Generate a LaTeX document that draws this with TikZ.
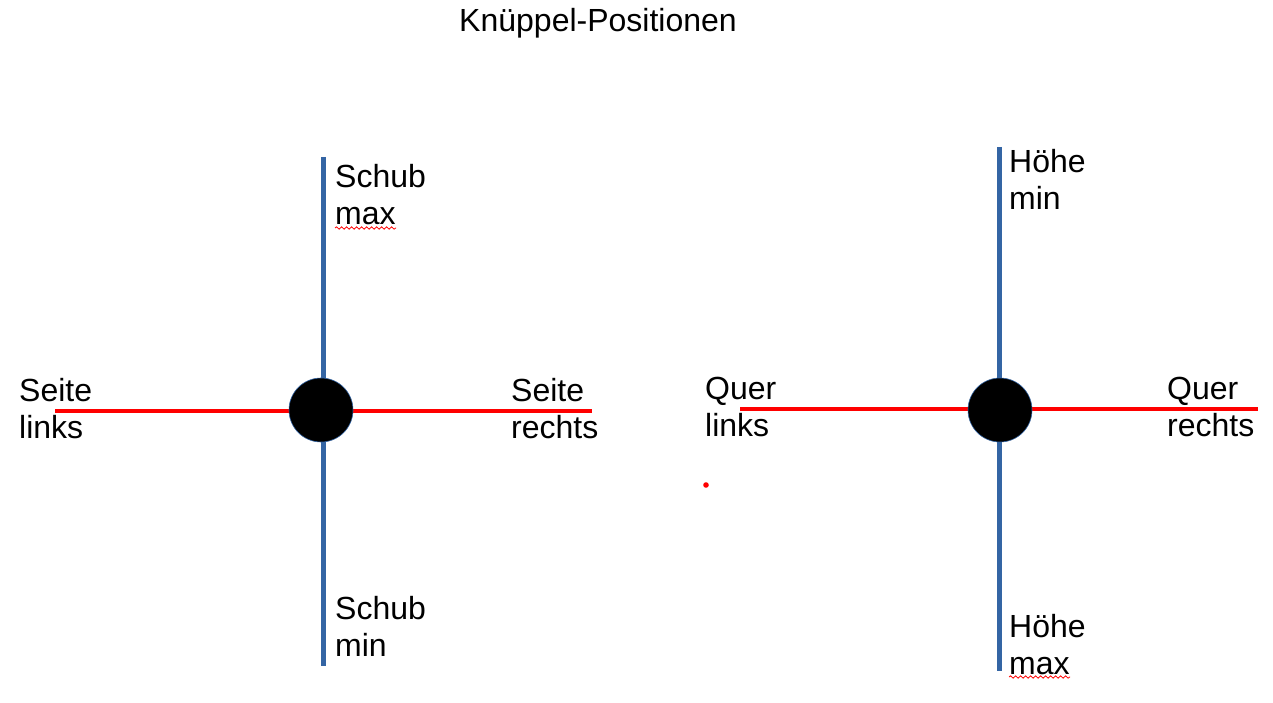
\documentclass[tikz,border=0pt]{standalone}
\usepackage{fontspec}
\setmainfont{Liberation Sans}
\usetikzlibrary{decorations.pathmorphing}
\definecolor{axisblue}{HTML}{3465A4}
\definecolor{axisred}{HTML}{FF0000}
\begin{document}
\begin{tikzpicture}[x=1pt,y=-1pt,
  lbl/.style={font=\fontsize{32}{37}\selectfont, inner sep=0pt, anchor=base west, align=left},
  vaxis/.style={draw=axisblue, line width=5pt},
  haxis/.style={draw=axisred, line width=4pt},
  knob/.style={circle, fill=black, draw=axisblue, line width=0.6pt, minimum size=64pt, inner sep=0pt},
  spell/.style={draw=axisred, line width=0.8pt, decorate, decoration={snake, amplitude=1.2pt, segment length=5pt}}]
\useasboundingbox (0,0) rectangle (1273,703);
\node[font=\fontsize{32}{37}\selectfont, inner sep=0pt, anchor=base] (title) at (598,32) {Knüppel-Positionen};
% left stick
\coordinate (LT) at (323,157);
\coordinate (LB) at (323,666);
\coordinate (LL) at (55,411);
\coordinate (LR) at (592,411);
\draw[haxis] (LL) -- (LR);
\draw[vaxis] (LT) -- (LB);
\node[knob] (lknob) at (321,410) {};
\node[lbl] (schubmax) at (335,225) {Schub\\max};
\node[lbl] (schubmin) at (335,656) {Schub\\min};
\node[lbl] (seitel) at (19,438) {Seite\\links};
\node[lbl] (seiter) at (511,438) {Seite\\rechts};
% right stick
\coordinate (RT) at (999,147);
\coordinate (RB) at (999,671);
\coordinate (RL) at (740,409);
\coordinate (RR) at (1258,409);
\draw[haxis] (RL) -- (RR);
\draw[vaxis] (RT) -- (RB);
\node[knob] (rknob) at (1000,410) {};
\node[lbl] (hoehemin) at (1009,210) {Höhe\\min};
\node[lbl] (hoehemax) at (1009,674) {Höhe\\max};
\node[lbl] (querl) at (705,436) {Quer\\links};
\node[lbl] (querr) at (1167,436) {Quer\\rechts};
% spell-check marks
\coordinate (s1a) at (335,228);
\coordinate (s1b) at (396,228);
\coordinate (s2a) at (1009,677);
\coordinate (s2b) at (1070,677);
\draw[spell] (s1a) -- (s1b);
\draw[spell] (s2a) -- (s2b);
% stray dot
\fill[axisred] (706,485) circle (2.8pt);
\end{tikzpicture}
\end{document}
